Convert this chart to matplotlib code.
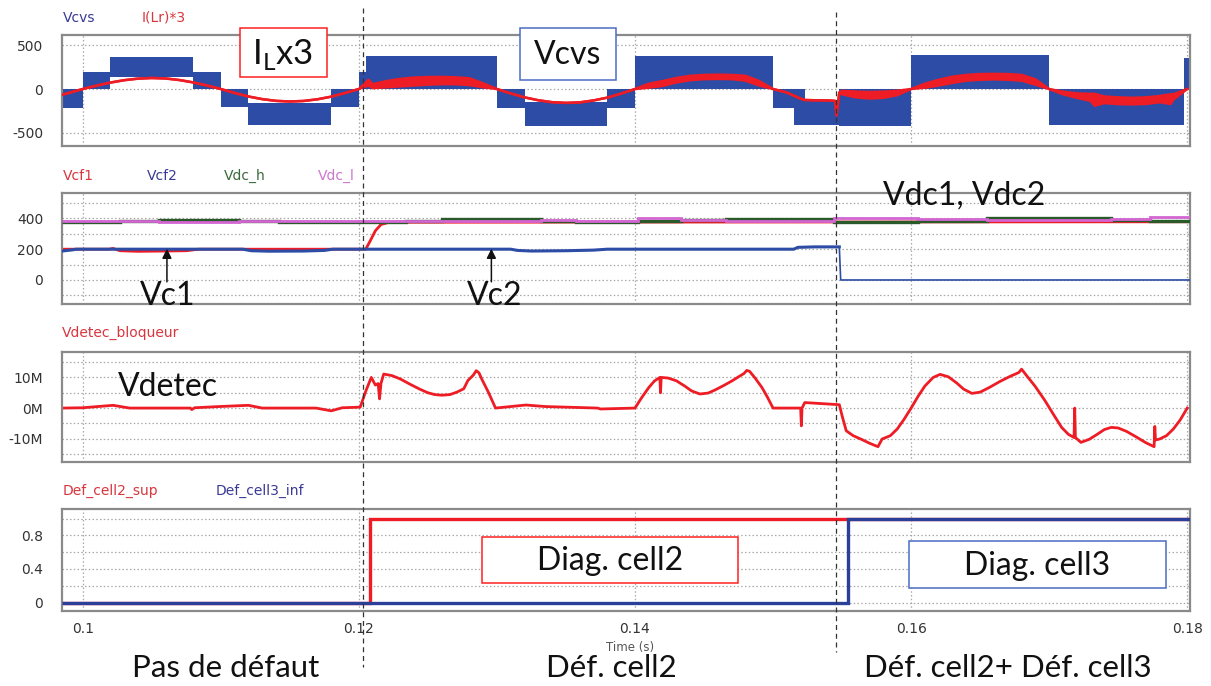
import numpy as np
import matplotlib.pyplot as plt
from matplotlib.patches import Rectangle
from matplotlib.lines import Line2D
from matplotlib.transforms import blended_transform_factory

# ---- data (time in s) ----
# Vcvs: PWM band per segment (edges, lower/upper envelope)
vcvs_edges = [0.0985, 0.100, 0.102, 0.108, 0.110, 0.112, 0.118, 0.120, 0.1205,
              0.130, 0.132, 0.138, 0.140, 0.150, 0.1515, 0.1523, 0.1548, 0.160,
              0.170, 0.1798, 0.1802]
vcvs_hi = [0, 190, 362, 190, 0, -160, 0, 190, 375, 0, -150, 0, 375, 0, 0,
           -125, 0, 385, 0, 350]
vcvs_lo = [-215, 0, 140, 0, -210, -405, -210, 0, 0, -215, -415, -220, 0, -215,
           -410, -405, -415, 0, -410, 0]

# I(Lr)*3: upper / lower edge of the red trace
ilr_t = [0.0985, 0.099, 0.100, 0.101, 0.102, 0.103, 0.104, 0.105, 0.106, 0.107,
         0.108, 0.109, 0.110, 0.111, 0.112, 0.113, 0.114, 0.115, 0.116, 0.117,
         0.118, 0.119, 0.120, 0.1207, 0.121, 0.122, 0.123, 0.124, 0.125, 0.126,
         0.127, 0.128, 0.129, 0.130, 0.131, 0.132, 0.133, 0.134, 0.135, 0.136,
         0.137, 0.138, 0.139, 0.140, 0.141, 0.142, 0.143, 0.144, 0.145, 0.146,
         0.147, 0.148, 0.149, 0.150, 0.151, 0.152, 0.1523, 0.153, 0.154, 0.1545,
         0.1546, 0.1548, 0.155, 0.156, 0.157, 0.158, 0.159, 0.160, 0.161, 0.162,
         0.163, 0.164, 0.165, 0.166, 0.167, 0.168, 0.169, 0.170, 0.171, 0.172,
         0.173, 0.1733, 0.174, 0.175, 0.176, 0.177, 0.178, 0.1788, 0.179, 0.180]
ilr_hi = [-65, -45, 0, 38, 73, 100, 118, 125, 120, 102,
          75, 40, 0, -45, -85, -115, -135, -142, -136, -117,
          -87, -45, 0, 105, 55, 90, 115, 130, 136, 137,
          133, 122, 65, 0, -50, -95, -128, -150, -158, -152,
          -130, -98, -52, 0, 60, 90, 125, 150, 160, 163,
          160, 150, 90, 0, -40, -110, -125, -128, -130, -135,
          -300, -40, -20, -30, -35, -30, -20, 0, 60, 105,
          140, 160, 170, 172, 170, 160, 110, 0, -30, -50,
          -55, -55, -85, -95, -100, -95, -80, -60, -60, 0]
ilr_lo = [-65, -45, 0, 38, 73, 100, 118, 125, 120, 102,
          75, 40, 0, -45, -85, -115, -135, -142, -136, -117,
          -87, -45, 0, 40, 10, 20, 30, 40, 50, 55,
          55, 45, 20, 0, -50, -95, -128, -150, -158, -152,
          -130, -98, -52, 0, 15, 35, 75, 100, 112, 115,
          112, 95, 40, 0, -40, -110, -125, -128, -130, -135,
          -300, -40, -60, -95, -108, -100, -70, 0, 15, 40,
          70, 95, 105, 110, 105, 95, 50, 0, -60, -100,
          -135, -190, -160, -172, -175, -170, -150, -170, -120, 0]

# Vcf1 / Vcf2
vcf1_t = [0.0985, 0.1019, 0.1022, 0.1027, 0.104, 0.106, 0.1075, 0.1084, 0.1205,
          0.1208, 0.1212, 0.1216, 0.1222, 0.180]
vcf1_v = [200, 200, 205, 190, 186, 188, 190, 200, 200, 250, 320, 360, 375, 378]
vcf2_t = [0.0985, 0.0993, 0.0995, 0.1116, 0.1122, 0.1135, 0.116, 0.1175, 0.1181,
          0.131, 0.1315, 0.1325, 0.135, 0.137, 0.138, 0.1515, 0.1518, 0.153,
          0.1548, 0.1549, 0.1802]
vcf2_v = [188, 196, 200, 200, 190, 187, 188, 192, 200, 200, 192, 188, 190, 194,
          200, 200, 212, 215, 215, 0, 0]

# Vdc_h / Vdc_l (piecewise levels)
vdc_edges = [0.0985, 0.1027, 0.1055, 0.1113, 0.1142, 0.117, 0.1234, 0.126,
             0.1332, 0.1357, 0.1402, 0.1433, 0.1466, 0.1544, 0.1605, 0.1655,
             0.1745, 0.1773, 0.1802]
vdc_h = [374, 380, 390, 380, 376, 374, 380, 395, 385, 378, 380, 392, 398, 378,
         382, 402, 392, 380]
vdc_l = [386, 381, 376, 381, 384, 386, 384, 383, 388, 382, 402, 392, 386, 400,
         395, 388, 396, 406]

# Vdetec_bloqueur (in M)
vdet_t = [0.0985, 0.100, 0.1022, 0.1034, 0.1078, 0.1079, 0.1081, 0.1099, 0.112,
          0.113, 0.1169, 0.118, 0.1188, 0.1201, 0.1205, 0.1209, 0.1212, 0.1214,
          0.1215, 0.1216, 0.1218, 0.1224, 0.1230, 0.1237, 0.1244, 0.1250, 0.1255,
          0.1260, 0.1266, 0.1271, 0.1276, 0.1279, 0.1283, 0.1285, 0.1287, 0.1289,
          0.1294, 0.1299, 0.1321, 0.1335, 0.1373, 0.1375, 0.140, 0.1405, 0.141,
          0.1414, 0.1418, 0.14185, 0.1419, 0.1424, 0.143, 0.1436, 0.1441, 0.1447,
          0.1453, 0.1458, 0.1464, 0.147, 0.1475, 0.1479, 0.1481, 0.1483, 0.1487,
          0.1492, 0.1496, 0.150, 0.152, 0.15205, 0.1521, 0.1523, 0.1548, 0.155,
          0.1553, 0.1558, 0.1564, 0.157, 0.1576, 0.1579, 0.1585, 0.159, 0.1595,
          0.160, 0.1605, 0.161, 0.1616, 0.1621, 0.1627, 0.1633, 0.1638, 0.1644,
          0.165, 0.1657, 0.1664, 0.1671, 0.1678, 0.168, 0.1684, 0.169, 0.1697,
          0.1703, 0.1709, 0.1714, 0.1718, 0.17185, 0.1719, 0.1723, 0.1729, 0.1735,
          0.174, 0.1745, 0.175, 0.1756, 0.1763, 0.177, 0.1776, 0.17765, 0.1777,
          0.178, 0.1785, 0.179, 0.1795, 0.180]
vdet_v = [0, 0.1, 0.9, 0, 0, -0.5, 0.1, 0.5, 0.9,
          0, 0, -0.9, 0.1, 0.3, 5.5, 10, 7.5, 8,
          3, 8, 11.1, 10.6, 9.5, 7.8, 6.2, 5.0, 4.4,
          4.2, 4.4, 5.2, 6.3, 9.0, 10.8, 12.2, 11.5, 9.5,
          5.0, 0, 1.0, 0.5, 0, -0.3, 0, 3.5, 6.7,
          8.8, 10.0, 5, 10, 9.8, 8.9, 7.2, 5.6, 4.6,
          4.9, 5.9, 7.3, 8.8, 10.2, 11.3, 12.3, 12.0, 9.8,
          6.7, 3.5, 0, 0, -5.8, 0, 1.8, 1.1, -2.5,
          -7.4, -9.0, -10.2, -11.5, -12.6, -10.1, -9.0, -6.8, -3.6,
          0, 3.8, 7.2, 10, 11, 10.2, 8.2, 6.2, 4.8,
          5.2, 6.8, 8.6, 10.2, 11.6, 12.7, 10.4, 7.0, 2.4,
          -2.0, -6.3, -8.6, -9.6, 0, -9.6, -11.2, -10.2, -8.5,
          -7.0, -6.3, -6.5, -7.6, -9.4, -11.3, -12.6, -6, -10.4,
          -10.1, -9.0, -6.8, -3.8, 0]

# fault flags
def2_edges = [0.0985, 0.1208, 0.1802]
def2_vals = [0, 1]
def3_edges = [0.0985, 0.1554, 0.1802]
def3_vals = [0, 1]

xticks = [0.1, 0.12, 0.14, 0.16, 0.18]
xtick_labels = ["0.1", "0.12", "0.14", "0.16", "0.18"]

# ---- styling ----
W, H = 1211, 686
T0, T1 = 0.0985, 0.1802
BLUE = "#2c4ca6"
RED = "#ee1c25"
GREEN = "#2a5a2a"
MAG = "#d466d4"
GRID = "#a8a8a8"
ANN = "Lato"

fig = plt.figure(figsize=(W / 100, H / 100), dpi=100)


def px_axes(top, bottom, left=62, right=1190):
    return fig.add_axes([left / W, 1 - bottom / H, (right - left) / W, (bottom - top) / H])


def style(ax, ylim, grid_y, ticks, labels):
    ax.set_xlim(T0, T1)
    ax.set_ylim(*ylim)
    for y in grid_y:
        ax.axhline(y, color=GRID, lw=0.9, ls=(0, (1.2, 1.8)), zorder=0)
    for x in xticks:
        ax.axvline(x, color=GRID, lw=0.9, ls=(0, (1.2, 1.8)), zorder=0)
    ax.set_yticks(ticks, labels)
    ax.set_xticks([])
    ax.tick_params(length=0, pad=13.5, labelsize=10, colors="#333333")
    for s in ax.spines.values():
        s.set_color("#8a8a8a")
        s.set_linewidth(1.6)


def label(x, y, s, color, size=10):
    fig.text(x / W, 1 - y / H, s, color=color, fontsize=size, va="baseline", ha="left")


# panel 1
ax1 = px_axes(35, 146)
style(ax1, (-648, 614), [-500, 0, 500], [-500, 0, 500], ["-500", "0", "500"])
ax1.stairs(vcvs_hi, vcvs_edges, baseline=vcvs_lo, fill=True, color=BLUE, lw=0, zorder=2)
ax1.fill_between(ilr_t, ilr_lo, ilr_hi, color=RED, lw=0, zorder=3)
ax1.plot(ilr_t, ilr_hi, color=RED, lw=1.8, zorder=3)
ax1.plot(ilr_t, ilr_lo, color=RED, lw=1.8, zorder=3)
label(63, 21.5, "Vcvs", "#3a3a96")
label(142, 21.5, "I(Lr)*3", "#d9363e")

# panel 2
ax2 = px_axes(193, 304)
style(ax2, (-156, 565), range(-100, 501, 100), [0, 200, 400], ["0", "200", "400"])
ax2.plot(vcf1_t, vcf1_v, color=RED, lw=2.0, zorder=2)
ax2.stairs(vdc_h, vdc_edges, baseline=None, color=GREEN, lw=2.4, zorder=3)
ax2.stairs(vdc_l, vdc_edges, baseline=None, color=MAG, lw=2.0, zorder=4)
drop = vcf2_v.index(0)
ax2.plot(vcf2_t[:drop], vcf2_v[:drop], color=BLUE, lw=2.2, zorder=3)
ax2.plot(vcf2_t[drop - 1:], vcf2_v[drop - 1:], color=BLUE, lw=1.2, zorder=3)
label(63, 180, "Vcf1", "#d9363e")
label(147, 180, "Vcf2", "#3a3a96")
label(224, 180, "Vdc_h", "#3b6b3b")
label(318, 180, "Vdc_l", "#cc77cc")

# panel 3
ax3 = px_axes(352, 462)
style(ax3, (-17.6, 18.3), range(-15, 16, 5), [-10, 0, 10], ["-10M", "0M", "10M"])
ax3.plot(vdet_t, vdet_v, color=RED, lw=2.0, zorder=2)
label(62, 337, "Vdetec_bloqueur", "#d9363e")

# panel 4
ax4 = px_axes(509, 611)
style(ax4, (-0.1, 1.114), [0, 0.2, 0.4, 0.6, 0.8, 1.0], [0, 0.4, 0.8], ["0", "0.4", "0.8"])
ax4.stairs(def2_vals, def2_edges, baseline=None, color=RED, lw=2.4, zorder=2)
ax4.stairs(def3_vals, def3_edges, baseline=None, color="#2a3f9a", lw=2.4, zorder=3)
ax4.set_xticks(xticks, xtick_labels)
ax4.tick_params(axis="x", length=0, pad=8, labelsize=10, colors="#333333")
label(63, 495, "Def_cell2_sup", "#d9363e")
label(216, 495, "Def_cell3_inf", "#3a3a96")
fig.text(630 / W, 1 - 648 / H, "Time (s)", fontsize=8.5, color="#555555", ha="center", va="center")

# ---- annotations ----
trans = blended_transform_factory(ax4.transData, fig.transFigure)
for t, y0, y1 in [(0.12032, 8, 667), (0.15456, 12, 652)]:
    fig.add_artist(Line2D([t, t], [1 - y0 / H, 1 - y1 / H], transform=trans,
                          color="#333333", lw=0.9, ls=(0, (4, 3)), zorder=4))


def box(x0, y0, x1, y1, edge):
    fig.add_artist(Rectangle((x0 / W, 1 - y1 / H), (x1 - x0) / W, (y1 - y0) / H,
                             transform=fig.transFigure, facecolor="white",
                             edgecolor=edge, lw=1.1, zorder=5))


def big(x, y, s, size=23):
    fig.text(x / W, 1 - y / H, s, fontsize=size, family=ANN, color="#111111",
             ha="center", va="baseline", zorder=6)


plt.rcParams["mathtext.fontset"] = "custom"
plt.rcParams["mathtext.rm"] = ANN
box(240, 28, 327, 77, "#ff2020")
big(283, 63.5, r"I$_{\mathrm{L}}$x3", size=25)
box(520, 28, 616, 80, "#4a6cc4")
big(568, 63.5, "Vcvs")
box(482, 537, 738, 583, "#ff2020")
big(610, 570, "Diag. cell2")
box(909, 541, 1166, 588, "#4a6cc4")
big(1037, 575, "Diag. cell3")

big(964, 205, "Vdc1, Vdc2")
big(168, 305, "Vc1")
big(495, 305, "Vc2")
big(168, 396, "Vdetec")
big(226, 677, "Pas de défaut", size=22.5)
big(611, 677, "Déf. cell2", size=22.5)
big(1008, 677, "Déf. cell2+ Déf. cell3", size=22.5)

# arrows to the Vc1 / Vc2 traces
for t in (0.1061, 0.1296):
    ax2.annotate("", xy=(t, 203), xytext=(t, -12),
                 arrowprops=dict(arrowstyle="-|>", color="#111111", lw=1.1,
                                 mutation_scale=14, shrinkA=0, shrinkB=0),
                 annotation_clip=False, zorder=6)

fig.savefig("out.png", dpi=100)
